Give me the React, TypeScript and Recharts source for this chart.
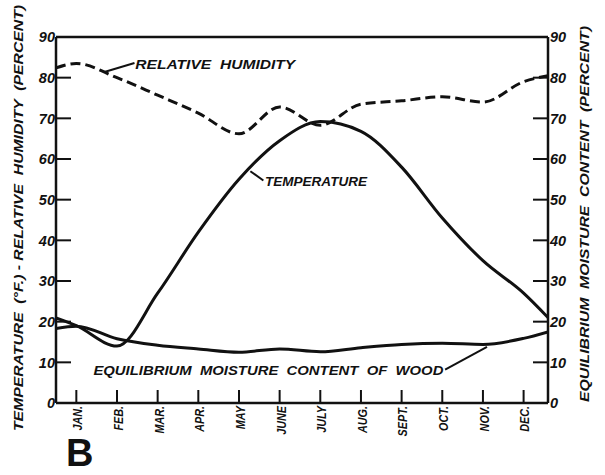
import React from 'react';
import { LineChart, Line, XAxis, YAxis, ReferenceLine, ReferenceDot } from 'recharts';

// x positions in month units (1 = JAN ... 12 = DEC); first/last are the chart edges
const monthPos = [0.5, 1, 2, 3, 4, 5, 6, 7, 8, 9, 10, 11, 12, 12.6];
const humidity = [82.4, 83.5, 80, 75.7, 71.3, 66.2, 72.8, 68.3, 73.5, 74.3, 75.3, 74, 79, 80.5];
const temperature = [20.9, 19, 14, 27, 42, 55, 64.5, 69.2, 66.8, 58, 45.5, 35, 27, 21];
const moisture = [18.3, 18.9, 15.8, 14.2, 13.3, 12.5, 13.3, 12.6, 13.6, 14.4, 14.7, 14.4, 15.9, 17.5];

const monthTicks = [1, 2, 3, 4, 5, 6, 7, 8, 9, 10, 11, 12];
const monthLabels = ['JAN.', 'FEB.', 'MAR.', 'APR.', 'MAY', 'JUNE', 'JULY', 'AUG.', 'SEPT.', 'OCT.', 'NOV.', 'DEC.'];
const valueTicks = [0, 10, 20, 30, 40, 50, 60, 70, 80, 90];

// annotation anchors in data units
const rhLabel = { x: 2.45, y: 82.2, text: 'RELATIVE  HUMIDITY' };
const rhLeader = [{ x: 1.69, y: 81.4 }, { x: 2.43, y: 83.6 }];
const tempLabel = { x: 5.64, y: 53.3, text: 'TEMPERATURE' };
const tempLeader = [{ x: 5.28, y: 57.0 }, { x: 5.6, y: 54.7 }];
const emcLabel = { x: 1.42, y: 6.9, text: 'EQUILIBRIUM  MOISTURE  CONTENT  OF  WOOD' };
const emcLeader = [{ x: 10.07, y: 8.2 }, { x: 11.1, y: 13.8 }];

const rows = monthPos.map((m, i) => ({
  m,
  rh: humidity[i],
  temp: temperature[i],
  emc: moisture[i],
}));

const INK = '#111';
const FONT = '"Liberation Sans", Arial, sans-serif';
const tickFont: React.CSSProperties = {
  fontFamily: FONT,
  fontStyle: 'italic',
  fontWeight: 700,
  fontSize: 14.5,
  fill: INK,
};
const letterFont: React.CSSProperties = {
  fontFamily: FONT,
  fontStyle: 'italic',
  fontWeight: 700,
  fontSize: 13,
  fill: INK,
};

const LeftTick = (props: any) => {
  const { x, y, payload } = props;
  const v = payload.value;
  return (
    <g>
      {v > 0 && v < 90 && <line x1={x} x2={x + 15} y1={y} y2={y} stroke={INK} strokeWidth={2} />}
      <text x={x - 1} y={y} dy="0.36em" textAnchor="end" style={tickFont}>
        {v}
      </text>
    </g>
  );
};

const RightTick = (props: any) => {
  const { x, y, payload } = props;
  const v = payload.value;
  return (
    <g>
      {v > 0 && v < 90 && <line x1={x - 15} x2={x} y1={y} y2={y} stroke={INK} strokeWidth={2} />}
      <text x={x + 2} y={y} dy="0.36em" textAnchor="start" style={tickFont}>
        {v}
      </text>
    </g>
  );
};

const MonthTick = (props: any) => {
  const { x, y, payload } = props;
  const label = monthLabels[monthTicks.indexOf(payload.value)];
  return (
    <g>
      <line x1={x} x2={x} y1={y} y2={y - 13} stroke={INK} strokeWidth={2} />
      <text
        transform={`translate(${x + 1},${y + 3}) rotate(-90) scale(0.8,1)`}
        dy="0.36em"
        textAnchor="end"
        style={{ ...letterFont, fontSize: 13.5 }}
      >
        {label}
      </text>
    </g>
  );
};

const makeLabel = (text: string, len: number) => (p: any) => (
  <text x={p.cx} y={p.cy} textLength={len} lengthAdjust="spacingAndGlyphs" style={letterFont} xmlSpace="preserve">
    {text}
  </text>
);

export default function App() {
  return (
    <div style={{ position: 'absolute', left: 0, top: 0, width: 605, height: 475, background: '#fff' }}>
      <LineChart
        width={605}
        height={475}
        data={rows}
        margin={{ top: 37, right: 56, bottom: 71, left: 55 }}
      >
        <XAxis
          dataKey="m"
          type="number"
          domain={[0.5, 12.6]}
          ticks={monthTicks}
          allowDataOverflow
          height={1}
          tickSize={0}
          tickMargin={0}
          tickLine={false}
          axisLine={{ stroke: INK, strokeWidth: 2.5 }}
          tick={<MonthTick />}
          interval={0}
        />
        <YAxis
          yAxisId="left"
          domain={[0, 90]}
          ticks={valueTicks}
          width={1}
          tickSize={0}
          tickMargin={0}
          tickLine={false}
          axisLine={{ stroke: INK, strokeWidth: 2.5 }}
          tick={<LeftTick />}
          interval={0}
        />
        <YAxis
          yAxisId="right"
          orientation="right"
          domain={[0, 90]}
          ticks={valueTicks}
          width={1}
          tickSize={0}
          tickMargin={0}
          tickLine={false}
          axisLine={{ stroke: INK, strokeWidth: 2.5 }}
          tick={<RightTick />}
          interval={0}
        />
        <ReferenceLine yAxisId="left" y={90} stroke={INK} strokeWidth={2.5} />
        <Line
          yAxisId="left"
          dataKey="rh"
          type="monotone"
          stroke={INK}
          strokeWidth={3}
          strokeDasharray="10 5"
          dot={false}
          isAnimationActive={false}
        />
        <Line
          yAxisId="left"
          dataKey="temp"
          type="monotone"
          stroke={INK}
          strokeWidth={3}
          dot={false}
          isAnimationActive={false}
        />
        <Line
          yAxisId="right"
          dataKey="emc"
          type="monotone"
          stroke={INK}
          strokeWidth={3}
          dot={false}
          isAnimationActive={false}
        />
        <ReferenceLine yAxisId="left" segment={rhLeader} stroke={INK} strokeWidth={2} />
        <ReferenceLine yAxisId="left" segment={tempLeader} stroke={INK} strokeWidth={2} />
        <ReferenceLine yAxisId="left" segment={emcLeader} stroke={INK} strokeWidth={2} />
        <ReferenceDot yAxisId="left" x={rhLabel.x} y={rhLabel.y} r={0} shape={makeLabel(rhLabel.text, 160)} />
        <ReferenceDot yAxisId="left" x={tempLabel.x} y={tempLabel.y} r={0} shape={makeLabel(tempLabel.text, 102)} />
        <ReferenceDot yAxisId="left" x={emcLabel.x} y={emcLabel.y} r={0} shape={makeLabel(emcLabel.text, 350)} />
      </LineChart>
      <svg
        width={605}
        height={475}
        style={{ position: 'absolute', left: 0, top: 0, pointerEvents: 'none' }}
      >
        <text
          transform="translate(18,218) rotate(-90)"
          textAnchor="middle"
          dy="0.36em"
          textLength={426}
          lengthAdjust="spacingAndGlyphs"
          style={letterFont}
          xmlSpace="preserve"
        >
          TEMPERATURE  (°F.) - RELATIVE  HUMIDITY  (PERCENT)
        </text>
        <text
          transform="translate(584,214) rotate(-90)"
          textAnchor="middle"
          dy="0.36em"
          textLength={376}
          lengthAdjust="spacingAndGlyphs"
          style={letterFont}
          xmlSpace="preserve"
        >
          EQUILIBRIUM  MOISTURE  CONTENT  (PERCENT)
        </text>
        <text x={66} y={466} style={{ fontFamily: FONT, fontWeight: 900, fontSize: 38, fill: INK }}>
          B
        </text>
      </svg>
    </div>
  );
}
